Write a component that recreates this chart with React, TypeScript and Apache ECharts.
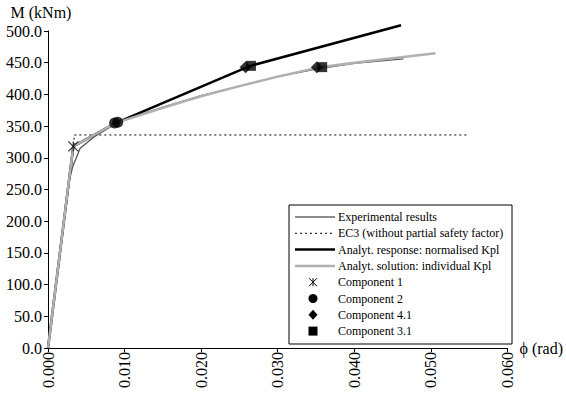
import React, { useEffect, useRef } from "react";
import * as echarts from "echarts";

// Experimental results
const expPhi = [0, 0.0028, 0.0032, 0.0042, 0.006, 0.0075, 0.0089, 0.012, 0.015, 0.02, 0.025, 0.03, 0.035, 0.04, 0.0464];
const expM = [0, 265, 285, 315, 333, 344, 355, 368, 380, 398, 413, 428, 440, 449, 456];
// EC3 (without partial safety factor)
const ec3Phi = [0, 0.0034, 0.0034, 0.055];
const ec3M = [0, 318, 336, 336];
// Analyt. response: normalised Kpl
const normPhi = [0, 0.0033, 0.0089, 0.0264, 0.0461];
const normM = [0, 318, 355, 445, 509];
// Analyt. solution: individual Kpl
const indPhi = [0, 0.0033, 0.0089, 0.015, 0.02, 0.025, 0.03, 0.0355, 0.04, 0.0506];
const indM = [0, 318, 355, 379, 397, 413, 428, 443, 450, 465];
// Components
const comp1Phi = [0.0033];
const comp1M = [318];
const comp2Phi = [0.0087, 0.0091];
const comp2M = [355, 356];
const comp41Phi = [0.0258, 0.0351];
const comp41M = [443, 443];
const comp31Phi = [0.0265, 0.0358];
const comp31M = [445, 443];

const zip = (a: number[], b: number[]) => a.map((v, i) => [v, b[i]]);

const FONT = "Liberation Serif, Times New Roman, serif";
const STAR = "path://M0,0L10,10M10,0L0,10M5,0L5,10";

const legendItems = [
  { name: "Experimental results", kind: "line", color: "#666666", width: 1.5, dash: null },
  { name: "EC3 (without partial safety factor)", kind: "line", color: "#000000", width: 1, dash: [2, 3] },
  { name: "Analyt. response: normalised Kpl", kind: "line", color: "#000000", width: 2.5, dash: null },
  { name: "Analyt. solution: individual Kpl", kind: "line", color: "#b0b0b0", width: 2.5, dash: null },
  { name: "Component 1", kind: "star" },
  { name: "Component 2", kind: "circle" },
  { name: "Component 4.1", kind: "diamond" },
  { name: "Component 3.1", kind: "square" },
];

export default function App() {
  const ref = useRef<HTMLDivElement>(null);
  useEffect(() => {
    if (!ref.current) return;
    const chart = echarts.init(ref.current, null, { renderer: "svg" });

    const lx = 289, ly = 205, lw = 223, lh = 139;
    const rowY0 = 217, rowStep = 16.3;
    const g: any[] = [
      { type: "rect", shape: { x: lx, y: ly, width: lw, height: lh }, style: { fill: "#fff", stroke: "#000", lineWidth: 1 }, z: 10 },
    ];
    legendItems.forEach((it: any, i) => {
      const y = rowY0 + i * rowStep;
      const cx = 313;
      if (it.kind === "line") {
        g.push({ type: "line", shape: { x1: 295, y1: y, x2: 335, y2: y }, style: { stroke: it.color, lineWidth: it.width, lineDash: it.dash || undefined }, z: 11 });
      } else if (it.kind === "star") {
        g.push({ type: "line", shape: { x1: cx - 4, y1: y - 4, x2: cx + 4, y2: y + 4 }, style: { stroke: "#000", lineWidth: 1 }, z: 11 });
        g.push({ type: "line", shape: { x1: cx + 4, y1: y - 4, x2: cx - 4, y2: y + 4 }, style: { stroke: "#000", lineWidth: 1 }, z: 11 });
        g.push({ type: "line", shape: { x1: cx, y1: y - 4, x2: cx, y2: y + 4 }, style: { stroke: "#000", lineWidth: 1 }, z: 11 });
      } else if (it.kind === "circle") {
        g.push({ type: "circle", shape: { cx, cy: y, r: 4.5 }, style: { fill: "#000" }, z: 11 });
      } else if (it.kind === "diamond") {
        g.push({ type: "polygon", shape: { points: [[cx, y - 5], [cx + 4.5, y], [cx, y + 5], [cx - 4.5, y]] }, style: { fill: "#000" }, z: 11 });
      } else if (it.kind === "square") {
        g.push({ type: "rect", shape: { x: cx - 4.5, y: y - 4.5, width: 9, height: 9 }, style: { fill: "#000" }, z: 11 });
      }
      g.push({ type: "text", x: 338, y, style: { text: it.name, fill: "#000", font: `12px ${FONT}`, verticalAlign: "middle", align: "left" }, z: 11 });
    });

    chart.setOption({
      animation: false,
      backgroundColor: "#fff",
      textStyle: { fontFamily: FONT },
      grid: { left: 48, right: 48, top: 31, bottom: 46 },
      xAxis: {
        type: "value", min: 0, max: 0.06, interval: 0.01,
        name: "ϕ (rad)", nameLocation: "end", nameGap: 12,
        nameTextStyle: { fontFamily: FONT, fontSize: 16, color: "#000", verticalAlign: "middle" },
        axisLine: { lineStyle: { color: "#000", width: 1 } },
        axisTick: { show: true, length: 4, lineStyle: { color: "#000" } },
        axisLabel: { rotate: 90, margin: 4, fontFamily: FONT, fontSize: 16, color: "#000", formatter: (v: number) => v.toFixed(3) },
        splitLine: { show: false },
      },
      yAxis: {
        type: "value", min: 0, max: 500, interval: 50,
        name: "M (kNm)", nameLocation: "end", nameGap: 11,
        nameTextStyle: { fontFamily: FONT, fontSize: 16, color: "#000", align: "center", padding: [0, 14, 0, 0] },
        axisLine: { show: true, lineStyle: { color: "#000", width: 1 } },
        axisTick: { show: true, length: 4, lineStyle: { color: "#000" } },
        axisLabel: { margin: 6, fontFamily: FONT, fontSize: 16, color: "#000", formatter: (v: number) => v.toFixed(1) },
        splitLine: { show: false },
      },
      series: [
        { name: "Experimental results", type: "line", data: zip(expPhi, expM), symbol: "none", clip: false, lineStyle: { color: "#555555", width: 1.3 }, z: 2 },
        { name: "EC3 (without partial safety factor)", type: "line", data: zip(ec3Phi, ec3M), symbol: "none", clip: false, lineStyle: { color: "#000", width: 1, type: [2, 3] }, z: 2 },
        { name: "Analyt. response: normalised Kpl", type: "line", data: zip(normPhi, normM), symbol: "none", clip: false, lineStyle: { color: "#000", width: 2.5 }, z: 3 },
        { name: "Analyt. solution: individual Kpl", type: "line", data: zip(indPhi, indM), symbol: "none", clip: false, lineStyle: { color: "#b0b0b0", width: 2.5 }, z: 4 },
        { name: "Component 1", type: "scatter", data: zip(comp1Phi, comp1M), symbol: STAR, symbolSize: 10, itemStyle: { color: "transparent", borderColor: "#000", borderWidth: 1.2 }, z: 5 },
        { name: "Component 2", type: "scatter", data: zip(comp2Phi, comp2M), symbol: "circle", symbolSize: 11, itemStyle: { color: "#000" }, z: 5 },
        { name: "Component 4.1", type: "scatter", data: zip(comp41Phi, comp41M), symbol: "diamond", symbolSize: 12, itemStyle: { color: "#000" }, z: 5 },
        { name: "Component 3.1", type: "scatter", data: zip(comp31Phi, comp31M), symbol: "rect", symbolSize: 10, itemStyle: { color: "#000" }, z: 5 },
      ],
      graphic: g,
    });
    return () => chart.dispose();
  }, []);
  return <div ref={ref} style={{ width: 566, height: 394, position: "absolute", left: 0, top: 0 }} />;
}
